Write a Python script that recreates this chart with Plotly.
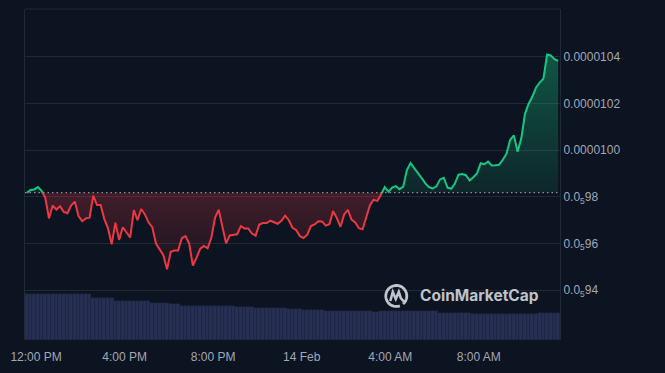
import math
import pandas as pd
import plotly.graph_objects as go

# ---------------- data ----------------
start_time = "2024-02-13 11:35"
step = "10min"

# price in units of 1e-6 (0.0000100 == 10.0)
price_micro = [
    9.818, 9.830, 9.832, 9.842, 9.826, 9.796, 9.708, 9.763, 9.746, 9.760,
    9.736, 9.730, 9.763, 9.780, 9.718, 9.696, 9.708, 9.711, 9.805, 9.765,
    9.765, 9.705, 9.665, 9.597, 9.690, 9.616, 9.670, 9.648, 9.626, 9.743,
    9.700, 9.748, 9.725, 9.690, 9.670, 9.600, 9.575, 9.550, 9.490, 9.565,
    9.570, 9.570, 9.623, 9.632, 9.600, 9.506, 9.540, 9.578, 9.590, 9.580,
    9.625, 9.710, 9.745, 9.665, 9.601, 9.635, 9.637, 9.640, 9.675, 9.665,
    9.665, 9.643, 9.634, 9.682, 9.688, 9.688, 9.698, 9.690, 9.685, 9.698,
    9.720, 9.700, 9.668, 9.658, 9.632, 9.624, 9.638, 9.675, 9.682, 9.696,
    9.695, 9.677, 9.683, 9.740, 9.710, 9.672, 9.725, 9.745, 9.703, 9.691,
    9.666, 9.661, 9.708, 9.765, 9.788, 9.783, 9.810, 9.842, 9.822, 9.840,
    9.846, 9.833, 9.843, 9.915, 9.945, 9.921, 9.902, 9.881, 9.858, 9.842,
    9.836, 9.845, 9.875, 9.882, 9.840, 9.835, 9.857, 9.895, 9.898, 9.893,
    9.870, 9.884, 9.900, 9.944, 9.940, 9.951, 9.935, 9.936, 9.938, 9.959,
    9.985, 10.045, 10.063, 9.994, 10.050, 10.155, 10.199, 10.230, 10.268, 10.290,
    10.306, 10.410, 10.406, 10.390, 10.383,
]

# 24h volume (arbitrary units)
volume = (
    [46.6] * 18 + [42.2] * 6 + [39.6] * 4 + [39.0] * 6 + [37.6] * 5 + [36.3] * 3
    + [34.3] * 15 + [33.3] * 5 + [32.3] * 9 + [31.0] * 4 + [30.0] * 6
    + [29.0] * 13 + [28.0] * 2 + [29.0] * 16 + [27.6] * 9 + [26.3] * 18 + [27.6] * 6
)

base_price = 9.818  # opening price (dotted reference line)

tick_times = ["2024-02-13 12:00", "2024-02-13 16:00", "2024-02-13 20:00",
              "2024-02-14 00:00", "2024-02-14 04:00", "2024-02-14 08:00"]
tick_time_labels = ["12:00 PM", "4:00 PM", "8:00 PM", "14 Feb", "4:00 AM", "8:00 AM"]

price_tick_vals = [9.4, 9.6, 9.8, 10.0, 10.2, 10.4]
price_tick_labels = ["0.0<sub>5</sub>94", "0.0<sub>5</sub>96", "0.0<sub>5</sub>98",
                     "0.0000100", "0.0000102", "0.0000104"]

# ---------------- styling ----------------
BG = "#0d1421"
GRID = "#222836"
GREEN = "#16c784"
RED = "#ea3943"
LABEL = "#a1a7b5"

times = list(pd.date_range(start_time, periods=len(price_micro), freq=step))

# insert baseline crossings so the line / fill can change colour exactly at the base
dx, dy = [times[0]], [price_micro[0]]
for k in range(1, len(price_micro)):
    a, b = price_micro[k - 1], price_micro[k]
    if (a - base_price) * (b - base_price) < 0:
        f = (base_price - a) / (b - a)
        dx.append(times[k - 1] + (times[k] - times[k - 1]) * f)
        dy.append(base_price)
    dx.append(times[k])
    dy.append(b)

upper = [max(v, base_price) for v in dy]
lower = [min(v, base_price) for v in dy]
green_line = [v if v >= base_price else None for v in dy]
red_line = [v if v <= base_price else None for v in dy]

fig = go.Figure()

# volume bars (main y axis, drawn underneath)
fig.add_trace(go.Bar(x=times, y=volume, marker=dict(color="#272f53", line=dict(width=0.4, color="#1f2745")),
                     yaxis="y", hoverinfo="skip", showlegend=False))

base_series = [base_price] * len(dx)
fig.add_trace(go.Scatter(x=dx, y=base_series, yaxis="y2", mode="lines",
                         line=dict(width=0), hoverinfo="skip", showlegend=False))
fig.add_trace(go.Scatter(x=dx, y=upper, yaxis="y2", mode="lines", line=dict(width=0),
                         fill="tonexty",
                         fillgradient=dict(type="vertical", start=base_price, stop=max(price_micro),
                                           colorscale=[[0, "rgba(22,199,132,0.10)"],
                                                       [1, "rgba(22,199,132,0.36)"]]),
                         hoverinfo="skip", showlegend=False))
fig.add_trace(go.Scatter(x=dx, y=base_series, yaxis="y2", mode="lines",
                         line=dict(width=0), hoverinfo="skip", showlegend=False))
fig.add_trace(go.Scatter(x=dx, y=lower, yaxis="y2", mode="lines", line=dict(width=0),
                         fill="tonexty",
                         fillgradient=dict(type="vertical", start=min(price_micro), stop=base_price,
                                           colorscale=[[0, "rgba(234,57,67,0.04)"],
                                                       [1, "rgba(234,57,67,0.24)"]]),
                         hoverinfo="skip", showlegend=False))

fig.add_trace(go.Scatter(x=dx, y=red_line, yaxis="y2", mode="lines",
                         line=dict(color=RED, width=2), connectgaps=False, showlegend=False))
fig.add_trace(go.Scatter(x=dx, y=green_line, yaxis="y2", mode="lines",
                         line=dict(color=GREEN, width=2), connectgaps=False, showlegend=False))

half = pd.Timedelta(minutes=5)
fig.update_layout(
    width=665, height=373,
    margin=dict(l=25, r=105, t=9, b=31),
    paper_bgcolor=BG, plot_bgcolor=BG,
    bargap=0,
    showlegend=False,
    xaxis=dict(range=[times[0] - half, times[-1] + half], showgrid=False, zeroline=False,
               showline=False, ticks="", tickvals=tick_times, ticktext=tick_time_labels,
               ticklabelstandoff=8,
               tickfont=dict(family="Liberation Sans, Arial", size=12, color=LABEL)),
    yaxis=dict(range=[0, 333], visible=False, showgrid=False, fixedrange=True),
    yaxis2=dict(overlaying="y", side="right", range=[9.187, 10.605],
                tickvals=price_tick_vals, ticktext=price_tick_labels,
                showgrid=True, gridcolor=GRID, gridwidth=1, zeroline=False,
                showline=True, mirror=True, linecolor=GRID, linewidth=1, ticks="",
                tickfont=dict(family="Liberation Sans, Arial", size=12, color=LABEL)),
)

# top frame line
fig.add_shape(type="line", xref="paper", yref="paper", x0=0, x1=1, y0=1, y1=1,
              line=dict(color=GRID, width=1))
# dotted opening-price line
fig.add_shape(type="line", xref="paper", yref="y2", x0=0, x1=1, y0=base_price, y1=base_price,
              line=dict(color="#a7abb5", width=1, dash="1.5px,3px"), layer="above")

# CoinMarketCap watermark
wm_col = "rgba(225,228,235,0.85)"
cx, cy = 0.694, 0.133
ring = []
for k in range(0, 41):
    ang = math.radians(-50 + k * 8.5)
    ring.append((10.5 * math.cos(ang), 10.5 * math.sin(ang)))
ring_path = "M " + " L ".join(f"{px:.2f},{py:.2f}" for px, py in ring)
fig.add_shape(type="path", xref="paper", yref="paper", xsizemode="pixel", ysizemode="pixel",
              xanchor=cx, yanchor=cy, path=ring_path, line=dict(color=wm_col, width=2.8))
wave = [(-6, -5), (-3.5, 4), (-0.5, -3), (2.5, 4), (4.5, -2), (7.5, -5.5)]
wave_path = "M " + " L ".join(f"{px},{py}" for px, py in wave)
fig.add_shape(type="path", xref="paper", yref="paper", xsizemode="pixel", ysizemode="pixel",
              xanchor=cx, yanchor=cy, path=wave_path, line=dict(color=wm_col, width=2.6))
fig.add_annotation(x=0.849, y=0.133, xref="paper", yref="paper", text="<b>CoinMarketCap</b>",
                   showarrow=False, xanchor="center", yanchor="middle",
                   font=dict(family="Inter, Roboto", size=15.5, color=wm_col))

fig.write_html("out.html", config={"displayModeBar": False},
               post_script="document.body.style.margin='0';document.body.style.background='#0d1421';")
